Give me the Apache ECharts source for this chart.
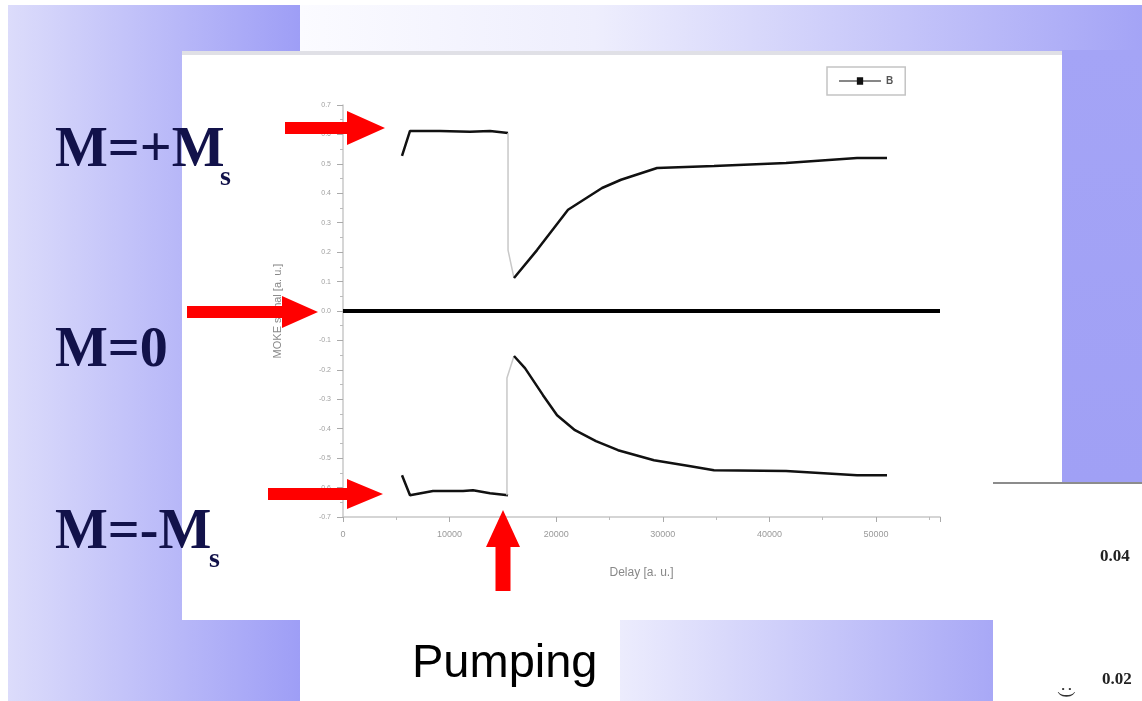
<!DOCTYPE html>
<html>
<head>
<meta charset="utf-8">
<script src="https://cdn.jsdelivr.net/npm/echarts@6/dist/echarts.min.js"></script>
<style>
  html, body { margin: 0; padding: 0; background: #fff; }
  #chart { width: 1142px; height: 701px; }
</style>
</head>
<body>
<div id="chart"></div>
<script>
// magnetisation signal (delay, signal)
const upperBefore = [[5535, 0.527], [6285, 0.612], [9100, 0.612], [11910, 0.609], [13790, 0.612], [15480, 0.605]]
const upperJump = [[15480, 0.605], [15480, 0.207], [16040, 0.112]]
const upperAfter = [[16040, 0.112], [18200, 0.207], [21110, 0.344], [24300, 0.418], [26080, 0.446], [29460, 0.486],
  [34800, 0.493], [41560, 0.503], [48220, 0.52], [51030, 0.52]]
const lowerBefore = [[5535, -0.558], [6285, -0.626], [8440, -0.612], [11260, -0.612], [12200, -0.609], [13790, -0.619], [15480, -0.626]]
const lowerJump = [[15380, -0.626], [15380, -0.228], [16040, -0.153]]
const lowerAfter = [[16040, -0.153], [17070, -0.194], [18760, -0.286], [20080, -0.354], [21760, -0.405], [23730, -0.442],
  [25800, -0.473], [29170, -0.507], [32460, -0.527], [34800, -0.541], [41560, -0.544], [48220, -0.558], [51030, -0.558]]
const zeroLine = [0]
const xRange = [0, 56000, 10000]
const yRange = [-0.7, 0.7, 0.1]
const stateLabels = ['M=+M', 'M=0', 'M=-M']

const LG = echarts.graphic.LinearGradient

function arrowRight (x0, tip, yc, shaft, headLen, headH) {
  const b = tip - headLen
  return [[x0, yc - shaft / 2], [b, yc - shaft / 2], [b, yc - headH / 2], [tip, yc], [b, yc + headH / 2], [b, yc + shaft / 2], [x0, yc + shaft / 2]]
}
function arrowUp (xc, tip, y1, shaft, headLen, headW) {
  const b = tip + headLen
  return [[xc - shaft / 2, y1], [xc - shaft / 2, b], [xc - headW / 2, b], [xc, tip], [xc + headW / 2, b], [xc + shaft / 2, b], [xc + shaft / 2, y1]]
}

const red = '#ff0000'
const serif = '"Liberation Serif", "Times New Roman", serif'
const ink = '#12124a'

const graphic = [
  // slide background pieces
  { type: 'rect', z: -10, shape: { x: 8, y: 5, width: 292, height: 696 },
    style: { fill: new LG(0, 0, 1, 0, [{ offset: 0, color: '#dcdcfb' }, { offset: 1, color: '#9e9ef6' }]) } },
  { type: 'rect', z: -10, shape: { x: 300, y: 5, width: 842, height: 50 },
    style: { fill: new LG(0, 0, 1, 0, [{ offset: 0, color: '#fbfbff' }, { offset: 0.35, color: '#eeeefd' }, { offset: 1, color: '#a4a4f6' }]) } },
  { type: 'rect', z: -10, shape: { x: 1062, y: 50, width: 80, height: 432 },
    style: { fill: new LG(0, 0, 0, 1, [{ offset: 0, color: '#a4a4f6' }, { offset: 1, color: '#a0a0f5' }]) } },
  { type: 'rect', z: -10, shape: { x: 620, y: 620, width: 373, height: 81 },
    style: { fill: new LG(0, 0, 1, 0, [{ offset: 0, color: '#ececfd' }, { offset: 1, color: '#a8a8f6' }]) } },
  // white chart sheet
  { type: 'rect', z: -9, shape: { x: 182, y: 51, width: 880, height: 569 }, style: { fill: '#ffffff' } },
  { type: 'rect', z: -8, shape: { x: 182, y: 51, width: 880, height: 4 }, style: { fill: '#e0e0e6' } },
  // bottom-right sheet
  { type: 'rect', z: -9, shape: { x: 993, y: 482, width: 149, height: 219 }, style: { fill: '#ffffff' } },
  { type: 'rect', z: -8, shape: { x: 993, y: 482, width: 149, height: 2 }, style: { fill: '#8c8c8c' } },
  { type: 'text', z: 50, style: { x: 1100, y: 557, text: '0.04', font: 'bold 17px ' + serif, fill: '#222', verticalAlign: 'middle' } },
  { type: 'text', z: 50, style: { x: 1102, y: 680, text: '0.02', font: 'bold 17px ' + serif, fill: '#222', verticalAlign: 'middle' } },
  { type: 'text', z: 50, x: 1066, y: 692, rotation: Math.PI / 2, style: { x: 0, y: 0, text: '(:', font: '18px ' + serif, fill: '#333', align: 'center', verticalAlign: 'middle' } },
  // Pumping caption
  { type: 'text', z: 50, style: { x: 412, y: 664, text: 'Pumping', font: '47px "Liberation Sans", Arial, sans-serif', fill: '#000', verticalAlign: 'middle' } },
  // state labels
  { type: 'text', z: 50, style: { x: 55, y: 152, text: stateLabels[0], font: 'bold 56px ' + serif, fill: ink, verticalAlign: 'middle' } },
  { type: 'text', z: 50, style: { x: 220, y: 178, text: 's', font: 'bold 28px ' + serif, fill: ink, verticalAlign: 'middle' } },
  { type: 'text', z: 50, style: { x: 55, y: 352, text: stateLabels[1], font: 'bold 56px ' + serif, fill: ink, verticalAlign: 'middle' } },
  { type: 'text', z: 50, style: { x: 55, y: 534, text: stateLabels[2], font: 'bold 56px ' + serif, fill: ink, verticalAlign: 'middle' } },
  { type: 'text', z: 50, style: { x: 209, y: 560, text: 's', font: 'bold 28px ' + serif, fill: ink, verticalAlign: 'middle' } },
  // red arrows
  { type: 'polygon', z: 60, shape: { points: arrowRight(285, 385, 128, 12, 38, 34) }, style: { fill: red } },
  { type: 'polygon', z: 60, shape: { points: arrowRight(187, 318, 312, 12, 36, 32) }, style: { fill: red } },
  { type: 'polygon', z: 60, shape: { points: arrowRight(268, 383, 494, 12, 36, 30) }, style: { fill: red } },
  { type: 'polygon', z: 60, shape: { points: arrowUp(503, 510, 591, 15, 37, 34) }, style: { fill: red } }
]

const black = { color: '#111', width: 2.5 }
const grey = { color: '#c8c8c8', width: 1.5 }

function line (name, data, style) {
  return {
    name: name,
    type: 'line',
    data: data,
    symbol: 'none',
    lineStyle: style,
    itemStyle: { color: style.color },
    z: 3
  }
}

const option = {
  backgroundColor: '#ffffff',
  animation: false,
  graphic: graphic,
  legend: {
    data: [{ name: 'B', icon: 'path://M0,4 L40,4 L40,5 L0,5 Z M17,1 L23,1 L23,8 L17,8 Z' }],
    left: 827,
    top: 67,
    padding: [9, 12],
    itemWidth: 42,
    itemHeight: 8,
    borderColor: '#c4c4c4',
    borderWidth: 1.5,
    textStyle: { fontSize: 10, color: '#555', fontWeight: 'bold' }
  },
  grid: { left: 343, right: 202, top: 105, bottom: 184 },
  xAxis: {
    type: 'value',
    min: xRange[0],
    max: xRange[1],
    interval: xRange[2],
    name: 'Delay [a. u.]',
    nameLocation: 'middle',
    nameGap: 50,
    nameTextStyle: { fontSize: 12, color: '#888' },
    axisLine: { onZero: false, lineStyle: { color: '#c8c8c8', width: 1.5 } },
    axisTick: { length: 5, lineStyle: { color: '#aaa' } },
    minorTick: { show: true, splitNumber: 2, length: 3, lineStyle: { color: '#bbb' } },
    axisLabel: { fontSize: 9, color: '#9a9a9a', margin: 13, showMaxLabel: false, formatter: v => String(v) },
    splitLine: { show: false }
  },
  yAxis: {
    type: 'value',
    min: yRange[0],
    max: yRange[1],
    interval: yRange[2],
    name: 'MOKE signal [a. u.]',
    nameLocation: 'middle',
    nameGap: 60,
    nameTextStyle: { fontSize: 11, color: '#888' },
    axisLine: { lineStyle: { color: '#c8c8c8', width: 1.5 } },
    axisTick: { length: 6, lineStyle: { color: '#aaa' } },
    minorTick: { show: true, splitNumber: 2, length: 3, lineStyle: { color: '#bbb' } },
    axisLabel: { fontSize: 7, color: '#a0a0a0', margin: 12, formatter: v => v.toFixed(1) },
    splitLine: { show: false }
  },
  series: [
    line('upper-before', upperBefore, black),
    line('upper-jump', upperJump, grey),
    line('B', upperAfter, black),
    line('lower-before', lowerBefore, black),
    line('lower-jump', lowerJump, grey),
    Object.assign(line('lower-after', lowerAfter, black), {
      markLine: {
        silent: true,
        symbol: ['none', 'none'],
        label: { show: false },
        lineStyle: { color: '#000', width: 4, type: 'solid' },
        data: zeroLine.map(v => ({ yAxis: v }))
      }
    })
  ]
}

const chart = echarts.init(document.getElementById('chart'))
chart.setOption(option)
window.addEventListener('resize', () => chart.resize())
</script>
</body>
</html>
